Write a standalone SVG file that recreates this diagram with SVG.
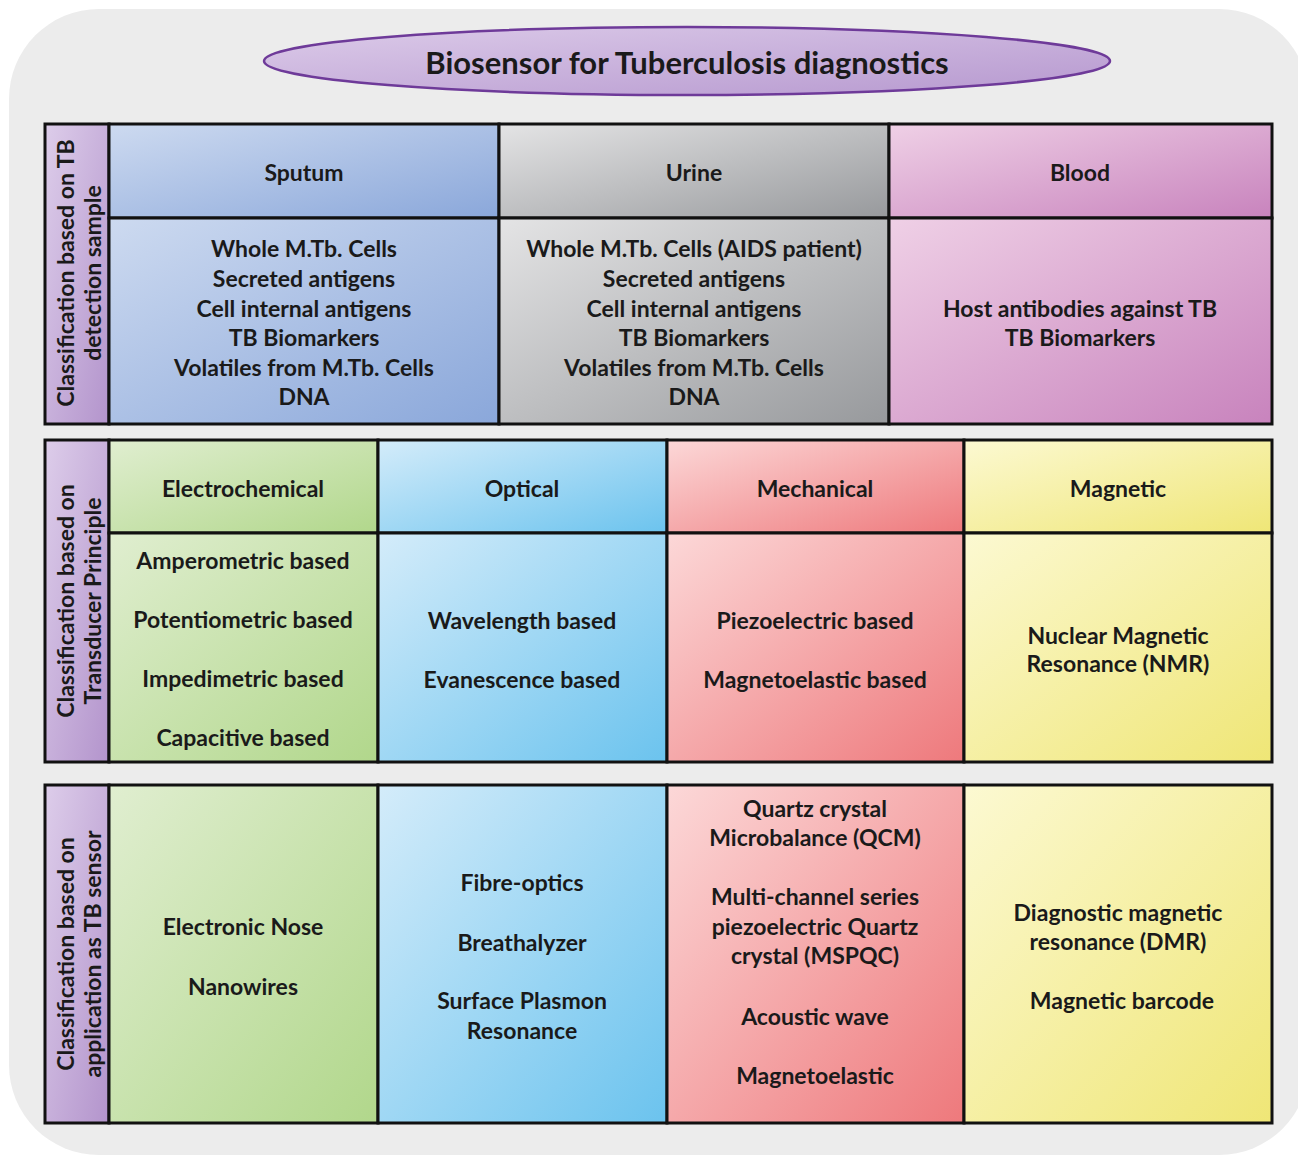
<svg xmlns="http://www.w3.org/2000/svg" width="1298" height="1157" viewBox="0 0 1298 1157">
<defs>
<linearGradient id="gSide" x1="0" y1="0" x2="1" y2="1"><stop offset="0" stop-color="#ddcdea"/><stop offset="1" stop-color="#b394cc"/></linearGradient>
<linearGradient id="gTitle" x1="0" y1="0" x2="1" y2="1"><stop offset="0" stop-color="#dccbe9"/><stop offset="1" stop-color="#b698cf"/></linearGradient>
<linearGradient id="gBlue" x1="0" y1="0" x2="1" y2="1"><stop offset="0" stop-color="#cddaf0"/><stop offset="1" stop-color="#8aa7da"/></linearGradient>
<linearGradient id="gGray" x1="0" y1="0" x2="1" y2="1"><stop offset="0" stop-color="#e4e4e5"/><stop offset="1" stop-color="#97999c"/></linearGradient>
<linearGradient id="gPink" x1="0" y1="0" x2="1" y2="1"><stop offset="0" stop-color="#efd0e6"/><stop offset="1" stop-color="#c883bd"/></linearGradient>
<linearGradient id="gGreen" x1="0" y1="0" x2="1" y2="1"><stop offset="0" stop-color="#e0eed0"/><stop offset="1" stop-color="#b1d78b"/></linearGradient>
<linearGradient id="gSky" x1="0" y1="0" x2="1" y2="1"><stop offset="0" stop-color="#d4ecfa"/><stop offset="1" stop-color="#6bc3ee"/></linearGradient>
<linearGradient id="gRed" x1="0" y1="0" x2="1" y2="1"><stop offset="0" stop-color="#fcd8d8"/><stop offset="1" stop-color="#ee797c"/></linearGradient>
<linearGradient id="gYellow" x1="0" y1="0" x2="1" y2="1"><stop offset="0" stop-color="#fcf9d2"/><stop offset="1" stop-color="#efe676"/></linearGradient>
</defs>
<style>
.cell{stroke:#111;stroke-width:3}
text{font-family:Lato,"Open Sans","Liberation Sans",sans-serif;font-weight:700;fill:#1a1a1a;text-anchor:middle}
.t{font-size:23px}
.s{font-size:23px}
.title{font-size:31px}
</style>
<rect x="9" y="9" width="1300" height="1146" rx="90" fill="#ececec"/>

<g id="title">
<ellipse cx="687" cy="61" rx="423" ry="34" fill="url(#gTitle)" stroke="#6e3a99" stroke-width="2.5"/>
<text class="title" x="687" y="74">Biosensor for Tuberculosis diagnostics</text>
</g>

<!-- Section 1 -->
<g id="side1">
<rect class="cell" x="45" y="124" width="64" height="300" fill="url(#gSide)"/>
<text class="s" transform="translate(74,273) rotate(-90)">Classification based on TB</text>
<text class="s" transform="translate(101,273) rotate(-90)">detection sample</text>
</g>
<g id="sputum">
<rect class="cell" x="109" y="124" width="390" height="94" fill="url(#gBlue)"/>
<text class="t" x="304" y="181">Sputum</text>
</g>
<g id="sputum-body">
<rect class="cell" x="109" y="218" width="390" height="206" fill="url(#gBlue)"/>
<text class="t" x="304" y="257">Whole M.Tb. Cells</text>
<text class="t" x="304" y="287">Secreted antigens</text>
<text class="t" x="304" y="317">Cell internal antigens</text>
<text class="t" x="304" y="346">TB Biomarkers</text>
<text class="t" x="304" y="376">Volatiles from M.Tb. Cells</text>
<text class="t" x="304" y="405">DNA</text>
</g>
<g id="urine">
<rect class="cell" x="499" y="124" width="390" height="94" fill="url(#gGray)"/>
<text class="t" x="694" y="181">Urine</text>
</g>
<g id="urine-body">
<rect class="cell" x="499" y="218" width="390" height="206" fill="url(#gGray)"/>
<text class="t" x="694" y="257">Whole M.Tb. Cells (AIDS patient)</text>
<text class="t" x="694" y="287">Secreted antigens</text>
<text class="t" x="694" y="317">Cell internal antigens</text>
<text class="t" x="694" y="346">TB Biomarkers</text>
<text class="t" x="694" y="376">Volatiles from M.Tb. Cells</text>
<text class="t" x="694" y="405">DNA</text>
</g>
<g id="blood">
<rect class="cell" x="889" y="124" width="383" height="94" fill="url(#gPink)"/>
<text class="t" x="1080" y="181">Blood</text>
</g>
<g id="blood-body">
<rect class="cell" x="889" y="218" width="383" height="206" fill="url(#gPink)"/>
<text class="t" x="1080" y="317">Host antibodies against TB</text>
<text class="t" x="1080" y="346">TB Biomarkers</text>
</g>

<!-- Section 2 -->
<g id="side2">
<rect class="cell" x="45" y="440" width="64" height="322" fill="url(#gSide)"/>
<text class="s" transform="translate(74,601) rotate(-90)">Classification based on</text>
<text class="s" transform="translate(101,601) rotate(-90)">Transducer Principle</text>
</g>
<g id="electrochemical">
<rect class="cell" x="109" y="440" width="269" height="93" fill="url(#gGreen)"/>
<text class="t" x="243" y="497">Electrochemical</text>
</g>
<g id="electrochemical-body">
<rect class="cell" x="109" y="533" width="269" height="229" fill="url(#gGreen)"/>
<text class="t" x="243" y="569">Amperometric based</text>
<text class="t" x="243" y="628">Potentiometric based</text>
<text class="t" x="243" y="687">Impedimetric based</text>
<text class="t" x="243" y="746">Capacitive based</text>
</g>
<g id="optical">
<rect class="cell" x="378" y="440" width="289" height="93" fill="url(#gSky)"/>
<text class="t" x="522" y="497">Optical</text>
</g>
<g id="optical-body">
<rect class="cell" x="378" y="533" width="289" height="229" fill="url(#gSky)"/>
<text class="t" x="522" y="629">Wavelength based</text>
<text class="t" x="522" y="688">Evanescence based</text>
</g>
<g id="mechanical">
<rect class="cell" x="667" y="440" width="297" height="93" fill="url(#gRed)"/>
<text class="t" x="815" y="497">Mechanical</text>
</g>
<g id="mechanical-body">
<rect class="cell" x="667" y="533" width="297" height="229" fill="url(#gRed)"/>
<text class="t" x="815" y="629">Piezoelectric based</text>
<text class="t" x="815" y="688">Magnetoelastic based</text>
</g>
<g id="magnetic">
<rect class="cell" x="964" y="440" width="308" height="93" fill="url(#gYellow)"/>
<text class="t" x="1118" y="497">Magnetic</text>
</g>
<g id="magnetic-body">
<rect class="cell" x="964" y="533" width="308" height="229" fill="url(#gYellow)"/>
<text class="t" x="1118" y="644">Nuclear Magnetic</text>
<text class="t" x="1118" y="672">Resonance (NMR)</text>
</g>

<!-- Section 3 -->
<g id="side3">
<rect class="cell" x="45" y="785" width="64" height="338" fill="url(#gSide)"/>
<text class="s" transform="translate(74,954) rotate(-90)">Classification based on</text>
<text class="s" transform="translate(101,954) rotate(-90)">application as TB sensor</text>
</g>
<g id="app-electrochemical">
<rect class="cell" x="109" y="785" width="269" height="338" fill="url(#gGreen)"/>
<text class="t" x="243" y="935">Electronic Nose</text>
<text class="t" x="243" y="995">Nanowires</text>
</g>
<g id="app-optical">
<rect class="cell" x="378" y="785" width="289" height="338" fill="url(#gSky)"/>
<text class="t" x="522" y="891">Fibre-optics</text>
<text class="t" x="522" y="951">Breathalyzer</text>
<text class="t" x="522" y="1009">Surface Plasmon</text>
<text class="t" x="522" y="1039">Resonance</text>
</g>
<g id="app-mechanical">
<rect class="cell" x="667" y="785" width="297" height="338" fill="url(#gRed)"/>
<text class="t" x="815" y="817">Quartz crystal</text>
<text class="t" x="815" y="846">Microbalance (QCM)</text>
<text class="t" x="815" y="905">Multi-channel series</text>
<text class="t" x="815" y="935">piezoelectric Quartz</text>
<text class="t" x="815" y="964">crystal (MSPQC)</text>
<text class="t" x="815" y="1025">Acoustic wave</text>
<text class="t" x="815" y="1084">Magnetoelastic</text>
</g>
<g id="app-magnetic">
<rect class="cell" x="964" y="785" width="308" height="338" fill="url(#gYellow)"/>
<text class="t" x="1118" y="921">Diagnostic magnetic</text>
<text class="t" x="1118" y="950">resonance (DMR)</text>
<text class="t" x="1122" y="1009">Magnetic barcode</text>
</g>
<g id="connectors"></g>
</svg>
